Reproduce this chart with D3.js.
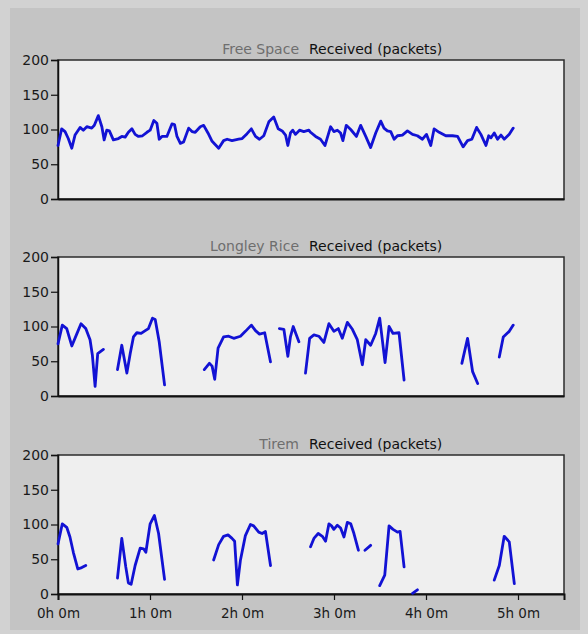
<!DOCTYPE html>
<html><head><meta charset="utf-8">
<script src="https://cdn.jsdelivr.net/npm/d3@7"></script>
<style>html,body{margin:0;padding:0;background:#d2d2d2;}svg{display:block;}</style>
</head><body>
<svg id="chart" width="588" height="634"></svg>
<script>
// ---- data (time in minutes, value in packets; null = gap) ----
const panelNames = ["Free Space", "Longley Rice", "Tirem"];
const seriesTitle = "Received (packets)";
const yTicks = [0, 50, 100, 150, 200];
const xTicks = [0, 60, 120, 180, 240, 300];
const xTickLabels = ["0h 0m", "1h 0m", "2h 0m", "3h 0m", "4h 0m", "5h 0m"];
const xMaxMinutes = 330;

const freeSpace = [[0,77],[2.4,101],[4.6,97],[6.7,87],[9.0,73],[11.1,92],[14.4,103],[16.5,99],[18.8,104],[22.0,102],[23.7,106],[26.3,120],[28.6,104],[30.1,85],[31.8,99],[33.5,98],[36.1,85],[39.4,87],[41.6,90],[43.8,89],[45.9,96],[48.2,101],[50.3,93],[52.5,90],[55.1,91],[58.0,96],[60.1,99],[62.5,113],[64.5,109],[66.0,86],[67.8,90],[71.0,90],[74.3,108],[76.0,107],[77.6,90],[79.8,80],[81.9,82],[85.2,102],[87.4,97],[89.5,96],[92.8,104],[95.0,106],[97.8,95],[100.5,83],[104.8,73],[108.0,84],[110.3,86],[113.5,84],[117.8,86],[120.1,87],[123.3,94],[126.1,101],[128.8,90],[131.4,86],[134.2,91],[137.5,111],[140.7,118],[143.6,101],[146.2,98],[148.4,92],[149.9,77],[151.6,95],[153.1,99],[154.9,93],[157.5,99],[160.3,97],[163.6,99],[164.7,96],[168.0,90],[171.2,86],[174.1,77],[176.3,93],[177.8,104],[179.9,97],[182.2,99],[184.3,95],[185.8,84],[188.0,106],[190.9,100],[194.6,90],[197.4,106],[200.7,90],[203.9,74],[207.2,95],[210.5,112],[212.6,102],[214.8,98],[217.0,97],[219.2,86],[221.4,91],[224.6,92],[227.9,98],[231.2,93],[234.4,91],[237.7,86],[240.3,93],[243.1,77],[245.3,101],[248.6,96],[252.9,91],[257.3,91],[260.6,90],[264.2,75],[267.1,84],[269.9,86],[273.0,103],[275.8,93],[279.1,77],[280.9,91],[282.4,88],[284.5,95],[286.7,86],[288.9,92],[291.0,86],[294.3,93],[296.9,102]];

const longleyRice = [[0,75],[2.8,102],[5.7,97],[9.0,72],[12.2,89],[15.0,104],[18.1,97],[20.9,81],[22.4,59],[24.2,14],[25.9,61],[29.6,67],
  null,[38.8,38],[41.6,73],[44.9,33],[47.1,61],[49.2,85],[51.4,91],[54.2,90],[56.9,94],[59.0,97],[61.6,112],[63.4,110],[66.0,78],[69.5,16],
  null,[95.4,38],[98.7,47],[100.5,43],[102.2,24],[104.4,69],[108.0,85],[111.3,86],[114.6,83],[119.0,86],[122.2,93],[126.1,102],[128.8,94],[131.4,89],[134.8,91],[138.6,49],
  null,[144.4,97],[147.3,96],[149.9,57],[151.6,85],[153.4,100],[155.4,88],[157.1,78],
  null,[161.4,33],[164.1,83],[166.9,88],[170.1,86],[173.4,77],[176.7,104],[179.9,93],[182.8,97],[185.4,83],[188.7,106],[192.0,96],[195.2,81],[198.5,45],[200.7,81],[203.9,73],[207.2,90],[209.8,112],[213.3,48],[215.9,100],[218.5,90],[222.4,91],[225.7,23],
  null,[263.4,47],[267.1,83],[270.4,35],[273.7,18],
  null,[287.8,56],[290.4,85],[294.3,93],[296.9,102]];

const tirem = [[0,72],[2.8,101],[5.7,96],[7.8,82],[10.0,60],[12.9,36],[15.5,38],[18.1,41],
  null,[38.8,23],[41.6,80],[44.2,39],[45.9,16],[47.7,14],[50.3,41],[53.6,66],[55.8,65],[57.3,60],[60.1,101],[62.9,113],[65.6,87],[69.5,21],
  null,[101.5,49],[104.8,71],[108.0,83],[110.9,85],[113.5,80],[115.2,76],[117.0,13],[119.0,49],[122.2,84],[125.5,100],[127.6,98],[130.9,89],[133.1,87],[135.3,90],[138.6,41],
  null,[164.7,68],[166.9,80],[169.7,87],[172.4,83],[174.5,76],[176.7,101],[178.4,98],[179.9,93],[182.2,99],[184.3,95],[186.5,82],[188.7,103],[190.9,101],[193.0,87],[195.9,63],
  null,[200.2,63],[203.9,70],
  null,[209.8,12],[213.1,27],[215.9,98],[218.5,93],[221.4,89],[223.1,90],[225.7,39],
  null,[231.2,1],[234.4,6],
  null,[284.5,20],[287.8,41],[291.0,83],[294.3,75],[297.6,15]];

const allSeries = [freeSpace, longleyRice, tirem];

// ---- layout ----
const svg = d3.select("#chart");
const font = "'DejaVu Sans', Verdana, sans-serif";
const plotLeft = 58, plotRight = 564;
const panelTops = [60, 257, 455];
const panelH = 139;

svg.append("rect").attr("x", 10).attr("y", 8).attr("width", 570).attr("height", 622).attr("fill", "#c4c4c4");

const x = d3.scaleLinear().domain([0, xMaxMinutes]).range([plotLeft, plotRight]);

allSeries.forEach((data, i) => {
  const top = panelTops[i];
  const y = d3.scaleLinear().domain([0, 200]).range([top + panelH, top]);
  const g = svg.append("g");

  g.append("rect")
    .attr("x", plotLeft).attr("y", top)
    .attr("width", plotRight - plotLeft).attr("height", panelH)
    .attr("fill", "#efefef").attr("stroke", "#2b2b2b").attr("stroke-width", 1.5);

  // titles
  g.append("text").attr("x", 299).attr("y", top - 6)
    .attr("text-anchor", "end").attr("font-family", font).attr("font-size", 14)
    .attr("fill", "#6e6e6e").text(panelNames[i]);
  g.append("text").attr("x", 309).attr("y", top - 6)
    .attr("text-anchor", "start").attr("font-family", font).attr("font-size", 14)
    .attr("fill", "#111").text(seriesTitle);

  // y axis
  const yAxis = d3.axisLeft(y).tickValues(yTicks).tickSize(7).tickPadding(2);
  const ya = g.append("g").attr("transform", `translate(${plotLeft},0)`).call(yAxis);
  ya.select(".domain").attr("stroke", "#111").attr("stroke-width", 1.5);
  ya.selectAll(".tick line").attr("stroke", "#111").attr("stroke-width", 1.2);
  ya.selectAll("text").attr("font-family", font).attr("font-size", 14).attr("fill", "#1a1a1a");

  // x axis
  const xAxis = d3.axisBottom(x).tickValues(xTicks).tickSize(i === 2 ? 6 : 0).tickPadding(i === 2 ? 8 : 0)
    .tickFormat((d, k) => i === 2 ? xTickLabels[k] : "");
  const xa = g.append("g").attr("transform", `translate(0,${top + panelH})`).call(xAxis);
  xa.select(".domain").attr("stroke", "#111").attr("stroke-width", 2);
  xa.selectAll(".tick line").attr("stroke", "#111").attr("stroke-width", 1.2);
  xa.selectAll("text").attr("font-family", font).attr("font-size", 13.5).attr("fill", "#1a1a1a");

  // line
  const line = d3.line().defined(d => d !== null).x(d => x(d[0])).y(d => y(d[1]));
  g.append("path").datum(data)
    .attr("fill", "none").attr("stroke", "#1212d4").attr("stroke-width", 2.8)
    .attr("stroke-linejoin", "round").attr("stroke-linecap", "round")
    .attr("d", line);
});
</script>
</body></html>
